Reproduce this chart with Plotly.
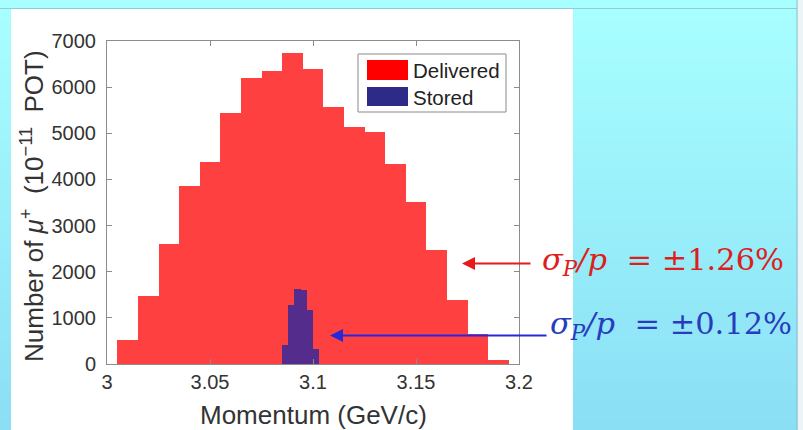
import plotly.graph_objects as go

# ---------------- data ----------------
momentum_delivered = [3.01, 3.02, 3.03, 3.04, 3.05, 3.06, 3.07, 3.08, 3.09, 3.10,
                      3.11, 3.12, 3.13, 3.14, 3.15, 3.16, 3.17, 3.18, 3.19]
counts_delivered = [520, 1480, 2600, 3860, 4370, 5440, 6200, 6350, 6740, 6400,
                    5560, 5130, 5020, 4340, 3520, 2460, 1390, 640, 90]

momentum_stored = [3.0865, 3.0895, 3.0925, 3.0955, 3.0985, 3.1015]
counts_stored = [410, 1280, 1630, 1610, 1160, 330]

x_tick_vals = [3.0, 3.05, 3.1, 3.15, 3.2]
x_tick_text = ["3", "3.05", "3.1", "3.15", "3.2"]
y_tick_vals = [0, 1000, 2000, 3000, 4000, 5000, 6000, 7000]

legend_names = ["Delivered", "Stored"]
sigma_delivered = "±1.26%"
sigma_stored = "±0.12%"

# ---------------- geometry helpers ----------------
W, H = 803, 430
L, R, T, B = 107, 519, 41, 364  # plot area in pixels


def px(p):
    return (p - L) / (R - L)


def py(q):
    return (B - q) / (B - T)


RED_BAR = "rgb(255,64,64)"
PURPLE_BAR = "rgb(84,44,140)"
RED_SW = "rgb(255,0,0)"
BLUE_SW = "rgb(46,42,136)"
AX_COL = "#8c8c8c"
TXT = "#333333"
FONT = "Liberation Sans, Arial, sans-serif"
SERIF = "DejaVu Serif, Liberation Serif, serif"

fig = go.Figure()
fig.add_trace(go.Bar(x=momentum_delivered, y=counts_delivered, width=0.01,
                     marker=dict(color=RED_BAR, line=dict(width=0)),
                     name=legend_names[0], showlegend=False))
fig.add_trace(go.Bar(x=momentum_stored, y=counts_stored, width=0.003,
                     marker=dict(color=PURPLE_BAR, line=dict(width=0)),
                     name=legend_names[1], showlegend=False))

shapes = []
# gradient background bands
top_c = (168, 255, 255)
bot_c = (138, 222, 244)
step = 10
for q in range(0, H, step):
    f = q / H
    c = tuple(int(round(top_c[i] + (bot_c[i] - top_c[i]) * f)) for i in range(3))
    shapes.append(dict(type="rect", xref="paper", yref="paper", layer="below",
                       x0=px(-5), x1=px(W + 5), y0=py(q + step + 1), y1=py(q),
                       fillcolor="rgb(%d,%d,%d)" % c, line=dict(width=0)))
# white panel
shapes.append(dict(type="rect", xref="paper", yref="paper", layer="below",
                   x0=px(11), x1=px(573), y0=py(H + 5), y1=py(9),
                   fillcolor="white", line=dict(width=0)))
shapes.append(dict(type="line", xref="paper", yref="paper", layer="below",
                   x0=px(0), x1=px(797), y0=py(8.5), y1=py(8.5),
                   line=dict(color="rgb(150,200,215)", width=1)))
# right border strip
shapes.append(dict(type="rect", xref="paper", yref="paper", layer="below",
                   x0=px(797.5), x1=px(W + 5), y0=py(H + 5), y1=py(-5),
                   fillcolor="rgb(236,244,247)", line=dict(width=0)))
shapes.append(dict(type="line", xref="paper", yref="paper", layer="below",
                   x0=px(797), x1=px(797), y0=py(H), y1=py(0),
                   line=dict(color="rgb(150,185,200)", width=1)))
# legend box
shapes.append(dict(type="rect", xref="paper", yref="paper", layer="above",
                   x0=px(358), x1=px(506), y0=py(112), y1=py(54),
                   fillcolor="white", line=dict(color="#8a8a8a", width=1)))
shapes.append(dict(type="rect", xref="paper", yref="paper", layer="above",
                   x0=px(367), x1=px(408), y0=py(80), y1=py(60),
                   fillcolor=RED_SW, line=dict(width=0)))
shapes.append(dict(type="rect", xref="paper", yref="paper", layer="above",
                   x0=px(367), x1=px(408), y0=py(106), y1=py(87),
                   fillcolor=BLUE_SW, line=dict(width=0)))

ytitle = ("Number of <i>μ</i><sup>+</sup>&nbsp;&nbsp;(10<sup>−11</sup>"
          "&nbsp;&nbsp;POT)")

annotations = [
    dict(text=legend_names[0], xref="paper", yref="paper", x=px(411), y=py(70.5),
         xanchor="left", yanchor="middle", showarrow=False,
         font=dict(family=FONT, size=20.5, color="#222")),
    dict(text=legend_names[1], xref="paper", yref="paper", x=px(411), y=py(97),
         xanchor="left", yanchor="middle", showarrow=False,
         font=dict(family=FONT, size=20.5, color="#222")),
    # axis titles
    dict(text=ytitle,
         xref="paper", yref="paper", x=px(32), y=py(206), textangle=-90,
         xanchor="center", yanchor="middle", showarrow=False,
         font=dict(family=FONT, size=26, color=TXT)),
    dict(text="Momentum (GeV/c)", xref="paper", yref="paper", x=0.5, y=py(415),
         xanchor="center", yanchor="middle", showarrow=False,
         font=dict(family=FONT, size=26, color=TXT)),
    # arrows
    dict(text="", xref="paper", yref="paper", x=px(462), y=py(263.5),
         ax=70, ay=0, axref="pixel", ayref="pixel", showarrow=True,
         arrowhead=2, arrowsize=1.3, arrowwidth=2, arrowcolor="rgb(232,25,26)"),
    dict(text="", xref="paper", yref="paper", x=px(330), y=py(335.5),
         ax=218, ay=0, axref="pixel", ayref="pixel", showarrow=True,
         arrowhead=2, arrowsize=1.3, arrowwidth=2, arrowcolor="rgb(40,40,215)"),
    # sigma texts
    dict(text="<i>σ</i><sub><i>P</i></sub><i>/p</i>&nbsp;&nbsp;=&nbsp;" + sigma_delivered,
         xref="paper", yref="paper", x=px(540), y=py(261), xanchor="left",
         yanchor="middle", showarrow=False,
         font=dict(family=SERIF, size=30.5, color="rgb(222,30,30)")),
    dict(text="<i>σ</i><sub><i>P</i></sub><i>/p</i>&nbsp;&nbsp;=&nbsp;" + sigma_stored,
         xref="paper", yref="paper", x=px(548), y=py(325), xanchor="left",
         yanchor="middle", showarrow=False,
         font=dict(family=SERIF, size=30.5, color="rgb(40,60,190)")),
]

fig.update_layout(
    width=W, height=H,
    margin=dict(l=L, r=W - R, t=T, b=H - B, pad=0),
    paper_bgcolor="rgb(160,240,250)",
    plot_bgcolor="white",
    barmode="overlay", bargap=0,
    showlegend=False,
    shapes=shapes,
    annotations=annotations,
    xaxis=dict(range=[3.0, 3.2], tickvals=x_tick_vals, ticktext=x_tick_text,
               showgrid=False, zeroline=False, showline=True, linecolor=AX_COL,
               linewidth=1, mirror="ticks", ticks="inside", ticklen=5,
               tickcolor=AX_COL, tickfont=dict(family=FONT, size=20, color=TXT),
               fixedrange=True),
    yaxis=dict(range=[0, 7000], tickvals=y_tick_vals,
               showgrid=False, zeroline=False, showline=True, linecolor=AX_COL,
               linewidth=1, mirror="ticks", ticks="inside", ticklen=5,
               tickcolor=AX_COL, tickfont=dict(family=FONT, size=20, color=TXT),
               ticklabelstandoff=6, fixedrange=True),
)

fig.write_html("out.html", config={"displayModeBar": False},
               post_script="document.body.style.margin='0';"
                           "document.body.style.overflow='hidden';")
